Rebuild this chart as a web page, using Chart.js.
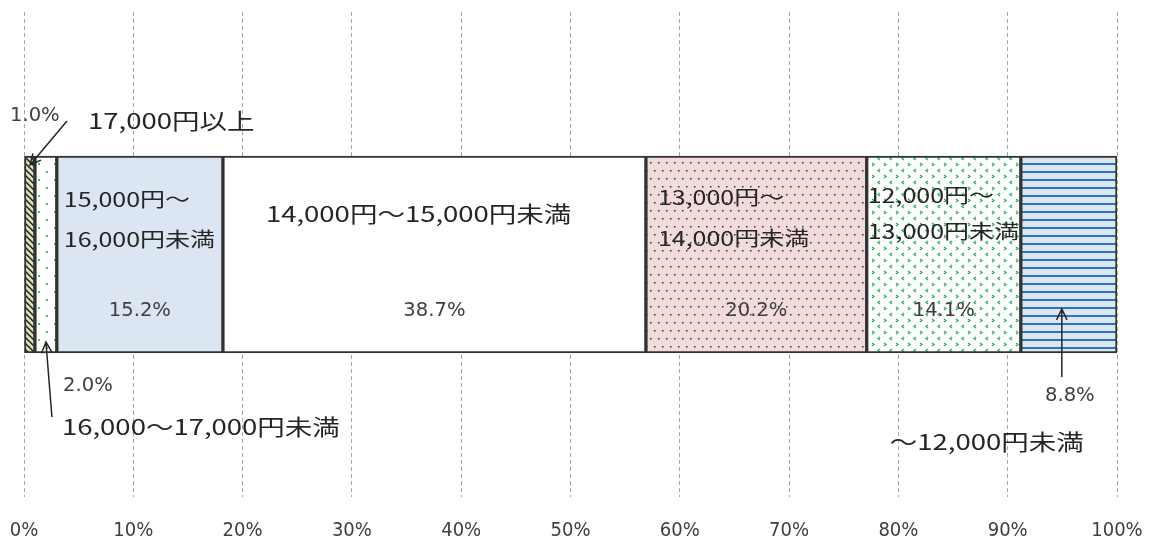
<!DOCTYPE html>
<html>
<head>
<meta charset="utf-8">
<script src="https://cdn.jsdelivr.net/npm/chart.js@4.4.1/dist/chart.umd.min.js"></script>
<style>
  body { margin: 0; background: #fff; }
</style>
</head>
<body>
<canvas id="priceChart" width="1151" height="547"></canvas>
<script>
// data
const categories = ['17,000円以上', '16,000～17,000円未満', '15,000円～16,000円未満', '14,000円～15,000円未満', '13,000円～14,000円未満', '12,000円～13,000円未満', '～12,000円未満'];
const shares = [1.0, 2.0, 15.2, 38.7, 20.2, 14.1, 8.8];
const tickLabels = ['0%', '10%', '20%', '30%', '40%', '50%', '60%', '70%', '80%', '90%', '100%'];

const canvas = document.getElementById('priceChart');
const ctx = canvas.getContext('2d');

const JP_FONT = "'Noto Sans CJK JP', 'Noto Sans', sans-serif";
const NUM_FONT = "'DejaVu Sans', sans-serif";
const TICK_FONT = "'DejaVu Sans Condensed', 'Liberation Sans Narrow', 'DejaVu Sans', sans-serif";

function makePattern(w, h, bg, draw) {
    const c = document.createElement('canvas');
    c.width = w;
    c.height = h;
    const g = c.getContext('2d');
    g.fillStyle = bg;
    g.fillRect(0, 0, w, h);
    draw(g);
    return ctx.createPattern(c, 'repeat');
}

// fills for each segment, left to right
const fills = [
    makePattern(6, 6, '#D7E4BD', g => {
        g.strokeStyle = '#1a1a1a';
        g.lineWidth = 1.4;
        g.beginPath();
        g.moveTo(-1, -1); g.lineTo(7, 7);
        g.moveTo(5, -1); g.lineTo(7, 1);
        g.moveTo(-1, 5); g.lineTo(1, 7);
        g.stroke();
    }),
    makePattern(16, 16, '#FFFFFF', g => {
        g.fillStyle = '#3CC36E';
        g.fillRect(6, 3, 2, 2);
        g.fillRect(14, 11, 2, 2);
    }),
    '#DCE6F2',
    '#FFFFFF',
    makePattern(8, 16, '#F2DCDB', g => {
        g.fillStyle = '#333';
        g.fillRect(2, 2, 1.5, 1.5);
        g.fillRect(6, 10, 1.5, 1.5);
    }),
    makePattern(12, 12, '#FFFFFF', g => {
        g.strokeStyle = '#22B455';
        g.lineWidth = 1.3;
        g.beginPath();
        g.moveTo(4, 1); g.lineTo(2, 2.5); g.lineTo(4, 4);
        g.moveTo(8, 7); g.lineTo(10, 8.5); g.lineTo(8, 10);
        g.stroke();
    }),
    makePattern(8, 8, '#DCE6F2', g => {
        g.fillStyle = '#2E75B6';
        g.fillRect(0, 3, 8, 2);
    })
];

// where each label goes, relative to segment left edge and bar top
const labelStyle = [
    { pct: { dx: -14, dy: -40, align: 'left' }, name: { dx: 64, dy: -35, size: 22 }, line: { x1: 43, y1: -35, x2: 6, y2: 9, head: true } },
    { pct: { dx: 53, dy: 230, align: 'center' }, name: { dx: 27, dy: 271, size: 22 }, line: { x1: 17, y1: 261, x2: 11, y2: 186, head: true } },
    { pct: { center: true, dy: 155 }, name: { dx: 7, dy: 43, size: 20, wrap: true, gap: 40 } },
    { pct: { center: true, dy: 155 }, name: { dx: 43, dy: 58, size: 22 } },
    { pct: { center: true, dy: 155 }, name: { dx: 12, dy: 41, size: 20, wrap: true, gap: 41 } },
    { pct: { center: true, dy: 155 }, name: { dx: 1, dy: 39, size: 20, wrap: true, gap: 36 } },
    { pct: { dx: 49, dy: 240, align: 'center' }, name: { dx: -131, dy: 286, size: 22 }, line: { x1: 41, y1: 221, x2: 41, y2: 153, head: true } }
];

function stretchedText(c, text, x, y, font, align, sx) {
    c.save();
    c.font = font;
    c.textBaseline = 'middle';
    c.textAlign = align;
    c.translate(x, y);
    c.scale(sx, 1);
    c.fillText(text, 0, 0);
    c.restore();
}

const segmentLabels = {
    id: 'segmentLabels',
    afterDatasetsDraw(chart) {
        const c = chart.ctx;
        const xs = chart.scales.x;
        const bar = chart.getDatasetMeta(0).data[0];
        const top = bar.y - bar.height / 2;
        let cum = 0;
        shares.forEach((v, i) => {
            const left = xs.getPixelForValue(cum);
            const right = xs.getPixelForValue(cum + v);
            cum += v;
            const st = labelStyle[i];

            // percent label
            c.fillStyle = '#404040';
            const px = st.pct.center ? (left + right) / 2 : left + st.pct.dx;
            stretchedText(c, v.toFixed(1) + '%', px, top + st.pct.dy, '19px ' + NUM_FONT,
                st.pct.center ? 'center' : st.pct.align, 1.03);

            // category label
            c.fillStyle = '#262626';
            const name = categories[i];
            const lines = st.name.wrap ? [name.slice(0, name.indexOf('～') + 1), name.slice(name.indexOf('～') + 1)] : [name];
            lines.forEach((ln, k) => {
                stretchedText(c, ln, left + st.name.dx, top + st.name.dy + k * (st.name.gap || 0),
                    st.name.size + 'px ' + JP_FONT, 'left', 1.25);
            });

            // leader line / arrow
            if (st.line) {
                const x1 = left + st.line.x1, y1 = top + st.line.y1;
                const x2 = left + st.line.x2, y2 = top + st.line.y2;
                c.save();
                c.strokeStyle = '#262626';
                c.lineWidth = 1.5;
                c.beginPath();
                c.moveTo(x1, y1);
                c.lineTo(x2, y2);
                if (st.line.head) {
                    const ang = Math.atan2(y2 - y1, x2 - x1);
                    const len = 12;
                    c.moveTo(x2 - len * Math.cos(ang - 0.45), y2 - len * Math.sin(ang - 0.45));
                    c.lineTo(x2, y2);
                    c.lineTo(x2 - len * Math.cos(ang + 0.45), y2 - len * Math.sin(ang + 0.45));
                }
                c.stroke();
                c.restore();
            }
        });
    }
};

new Chart(ctx, {
    type: 'bar',
    data: {
        labels: [''],
        datasets: categories.map((name, i) => ({
            label: name,
            data: [shares[i]],
            backgroundColor: fills[i],
            borderColor: '#333333',
            borderWidth: 2,
            borderSkipped: false,
            barThickness: 197
        }))
    },
    options: {
        indexAxis: 'y',
        responsive: false,
        animation: false,
        devicePixelRatio: 1,
        layout: { padding: { left: 24, right: 34, top: 12, bottom: 4 } },
        plugins: {
            legend: { display: false },
            tooltip: { enabled: false }
        },
        scales: {
            x: {
                stacked: true,
                min: 0,
                max: 100,
                afterFit: scale => {
                    scale.paddingLeft = 0;
                    scale.paddingRight = 0;
                    scale.height = 46;
                },
                ticks: {
                    stepSize: 10,
                    callback: (v, i) => tickLabels[i],
                    color: '#404040',
                    font: { family: TICK_FONT, size: 20 },
                    padding: 22,
                    maxRotation: 0
                },
                grid: { color: '#A6A6A6', drawTicks: false },
                border: { display: false, dash: [4, 3] }
            },
            y: { stacked: true, display: false }
        }
    },
    plugins: [segmentLabels]
});
</script>
</body>
</html>
